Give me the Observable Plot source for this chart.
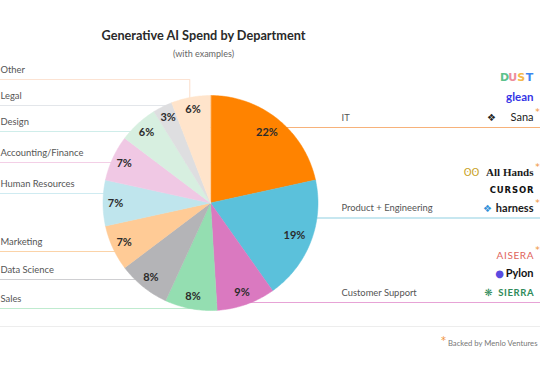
<!DOCTYPE html>
<html><head><meta charset="utf-8">
<script src="https://cdn.jsdelivr.net/npm/d3@7"></script>
<script src="https://cdn.jsdelivr.net/npm/@observablehq/plot@0.6"></script>
<style>
body{margin:0;background:#fff;}
#chart svg{display:block;}
</style>
</head><body><div id="chart"></div>
<script>
// ---------- data ----------
const departments = ["IT","Product + Engineering","Customer Support","Sales","Data Science","Marketing","Human Resources","Accounting/Finance","Design","Legal","Other"];
const shares = [22,19,9,8,8,7,7,7,6,3,6];
const sliceColors = ["#FF8300","#5BC1DB","#DA79C0","#94DEB1","#B4B4B7","#FFCB96","#BFE5ED","#F0C8E4","#D7EFE0","#DEDEE0","#FFE4CB"];
const leaderColors = ["#F7B27A","#8FD0E2","#E7A3D6","#BFEBCF","#CFCFD2","#FBD3A8","#CFEBF1","#F3CFE6","#CFEDEA","#E3E6EA","#FCE3D3"];
const titleText = "Generative AI Spend by Department";
const subtitleText = "(with examples)";
const footnoteText = "Backed by Menlo Ventures";
const logoNames = ["glean","Sana","All Hands","CURSOR","harness","AISERA","Pylon","SIERRA"];
const backedLogos = ["Sana","All Hands","harness","AISERA"];
const dustLetters = ["D","U","S","T"];
const dustColors = ["#5CC28C","#EE8C9C","#F4B84A","#3D86F0"];

// ---------- layout ----------
const W = 540, H = 372, cx = 210, cy = 202.5, R = 107.5;
const leaderY = {"IT":127,"Product + Engineering":217.5,"Customer Support":302,"Sales":308,"Data Science":279,"Marketing":251,"Human Resources":193,"Accounting/Finance":162,"Design":131,"Legal":105,"Other":79};
const rightSide = new Set(["IT","Product + Engineering","Customer Support"]);
const logoStyle = {
  "glean":{y:97,fill:"#3535E6",font:"Lato",weight:"bold",size:11.5,icon:null},
  "Sana":{y:117,fill:"#222",font:"Lato",weight:"normal",size:11,icon:"❖",iconFill:"#222",ix:491},
  "All Hands":{y:172,fill:"#1a1a1a",font:"Liberation Serif",weight:"bold",size:11,icon:"ʘʘ",iconFill:"#C9A227",ix:471},
  "CURSOR":{y:190,fill:"#111",font:"DejaVu Sans",weight:"bold",size:8.5,icon:null},
  "harness":{y:208,fill:"#1a1a1a",font:"Lato",weight:"bold",size:11,icon:"❖",iconFill:"#2E8FD8",ix:487},
  "AISERA":{y:255,fill:"#E0635C",font:"Lato",weight:"normal",size:10,icon:null},
  "Pylon":{y:273,fill:"#111",font:"Lato",weight:"bold",size:11,icon:"●",iconFill:"#5A4BE0",ix:499},
  "SIERRA":{y:292,fill:"#2F8B5A",font:"Lato",weight:"bold",size:9.5,icon:"❋",iconFill:"#2F8B5A",ix:488}
};
const spaced = s => s.split("").join("\u200A");

// ---------- derived ----------
const rows = departments.map((d,i)=>({dept:d, share:shares[i], color:sliceColors[i], lineColor:leaderColors[i]}));
const arcs = d3.pie().sort(null).value(d=>d.share)(rows);
const px = a => cx + R*Math.sin(a), py = a => cy - R*Math.cos(a);

const wedgePts = [];
arcs.forEach(a=>{
  const n = Math.max(4, Math.ceil((a.endAngle-a.startAngle)/(Math.PI/180)));
  wedgePts.push({dept:a.data.dept, color:a.data.color, x:cx, y:cy});
  for(let k=0;k<=n;k++){
    const t = a.startAngle + (a.endAngle-a.startAngle)*k/n;
    wedgePts.push({dept:a.data.dept, color:a.data.color, x:px(t), y:py(t)});
  }
});

const leaderPts = [];
arcs.forEach(a=>{
  const d = a.data.dept, y = leaderY[d];
  if(rightSide.has(d)){
    leaderPts.push({dept:d,c:a.data.lineColor,x:cx,y},{dept:d,c:a.data.lineColor,x:W,y});
  } else if(d==="Other"){
    const mx = px((a.startAngle+a.endAngle)/2) - 1;
    leaderPts.push({dept:d,c:a.data.lineColor,x:0,y},{dept:d,c:a.data.lineColor,x:mx,y},{dept:d,c:a.data.lineColor,x:mx,y:cy});
  } else {
    leaderPts.push({dept:d,c:a.data.lineColor,x:0,y},{dept:d,c:a.data.lineColor,x:cx,y});
  }
});

const pctLabels = arcs.map(a=>{
  const m = (a.startAngle+a.endAngle)/2;
  const r = a.data.share>=15 ? 90 : 95;
  return {text:a.data.share+"%", x:cx+r*Math.sin(m), y:cy-r*Math.cos(m)};
});

const deptLabels = arcs.map(a=>({text:a.data.dept, right:rightSide.has(a.data.dept), y:leaderY[a.data.dept]-10}));

const logoMarks = [];
logoNames.forEach(name=>{
  const s = logoStyle[name];
  const txt = (name==="CURSOR"||name==="AISERA"||name==="SIERRA") ? spaced(name) : name;
  logoMarks.push(Plot.text([{t:txt,x:533,y:s.y}],{x:"x",y:"y",text:"t",textAnchor:"end",fill:s.fill,fontFamily:s.font,fontWeight:s.weight,fontSize:s.size}));
});

const chart = Plot.plot({
  width: W, height: H,
  margin: 0,
  x: {domain:[0,W], range:[0,W], axis:null},
  y: {domain:[0,H], range:[0,H], axis:null},
  style: {fontFamily:"Lato, sans-serif", background:"#fff"},
  marks: [
    Plot.ruleY([326],{x1:0,x2:W,stroke:"#EDEDED",strokeWidth:1}),
    Plot.line(leaderPts,{x:"x",y:"y",z:"dept",stroke:"c",strokeWidth:1.2}),
    Plot.line(wedgePts,{x:"x",y:"y",z:"dept",fill:"color",stroke:"color",strokeWidth:0.5,curve:"linear-closed"}),
    Plot.text(pctLabels,{x:"x",y:"y",text:"text",fill:"#2B2B2B",fontWeight:"bold",fontSize:11,fontFamily:"Lato"}),
    Plot.text(deptLabels.filter(d=>!d.right),{x:()=>0,y:"y",text:"text",textAnchor:"start",fill:"#555",fontSize:9.4}),
    Plot.text(deptLabels.filter(d=>d.right),{x:()=>341,y:"y",text:"text",textAnchor:"start",fill:"#555",fontSize:9.4}),
    Plot.text([titleText],{x:()=>203,y:()=>35,text:d=>d,fontWeight:"bold",fontSize:12.7,fill:"#2a2a2a"}),
    Plot.text([subtitleText],{x:()=>203,y:()=>54,text:d=>d,fontSize:9,fill:"#666"}),
    Plot.text(dustLetters.map((l,i)=>({l,c:dustColors[i],x:504+i*8.3})),{x:"x",y:()=>77,text:"l",fill:"c",fontWeight:"900",fontSize:11,fontFamily:"DejaVu Sans"}),
    ...logoMarks,
    Plot.text(logoNames.filter(n=>logoStyle[n].icon).map(n=>({t:logoStyle[n].icon,c:logoStyle[n].iconFill,y:logoStyle[n].y,x:logoStyle[n].ix})),
      {x:"x",y:"y",text:"t",fill:"c",fontSize:10,fontFamily:"DejaVu Sans"}),
    Plot.text(backedLogos.map(n=>({y:logoStyle[n].y-5})),{x:()=>537,y:"y",text:()=>"*",fill:"#F0923A",fontSize:9,fontFamily:"DejaVu Sans"}),
    Plot.text([footnoteText],{x:()=>537,y:()=>343,text:d=>d,textAnchor:"end",fill:"#777",fontSize:7.7}),
    Plot.text(["*"],{x:()=>443,y:()=>340,text:d=>d,fill:"#F0923A",fontSize:10,fontFamily:"DejaVu Sans"})
  ]
});
document.getElementById("chart").appendChild(chart);
</script>
</body></html>
